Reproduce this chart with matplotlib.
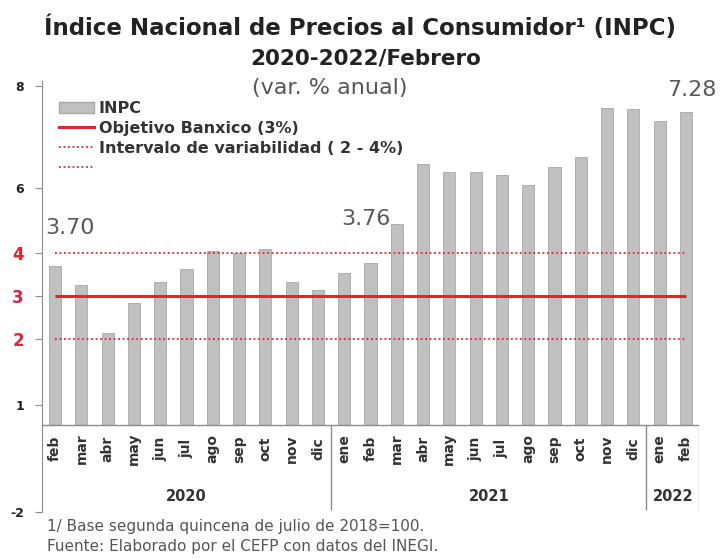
import matplotlib.pyplot as plt
from matplotlib.patches import Patch
from matplotlib.lines import Line2D

# datos: INPC var. % anual, feb 2020 - feb 2022
months = ["feb", "mar", "abr", "may", "jun", "jul", "ago", "sep", "oct", "nov", "dic",
          "ene", "feb", "mar", "abr", "may", "jun", "jul", "ago", "sep", "oct", "nov", "dic",
          "ene", "feb"]
inpc = [3.70, 3.25, 2.15, 2.84, 3.33, 3.62, 4.05, 4.01, 4.09, 3.33, 3.15,
        3.54, 3.76, 4.67, 6.08, 5.89, 5.88, 5.81, 5.59, 6.00, 6.24, 7.37, 7.36,
        7.07, 7.28]
years = ["2020", "2021", "2022"]
year_counts = [11, 12, 2]
objetivo = 3
intervalo = [2, 4]
highlight_idx = [0, 12, 24]
highlight_txt = ["3.70", "3.76", "7.28"]
highlight_off = [(11, 27), (-3, 32), (4, 16)]

# etiquetas del eje y tal como aparecen en la imagen original
ytick_vals = [7.88, 5.51, 4, 3, 2, 0.47, -2.02]
ytick_labels = ["8", "6", "4", "3", "2", "1", "-2"]
ytick_colors = ["#222222", "#222222", "#e3242f", "#cf2a45", "#e3242f", "#222222", "#222222"]
ytick_sizes = [9, 9, 12, 12, 12, 9, 9]

red = "#e3242f"
bar_color = "#c0c0c0"
text_dark = "#333333"

fig = plt.figure(figsize=(7.2, 5.59), dpi=100)
ax = fig.add_axes([42 / 720, 47 / 559, 657 / 720, 431 / 559])

x = list(range(len(inpc)))
ax.bar(x, inpc, width=0.46, color=bar_color, edgecolor="#a8a8a8", linewidth=0.6, zorder=2)

ax.hlines(objetivo, x[0], x[-1], color=red, linewidth=2.2, zorder=3)
for v in intervalo:
    ax.hlines(v, x[0], x[-1], color=red, linewidth=1.3, linestyles=(0, (1, 1.5)), zorder=3)

ax.set_xlim(-0.5, len(inpc) - 0.5)
ax.set_ylim(-2.02, 8.0)

# eje x dibujado en cero y separadores de años
ax.axhline(0, color="#8c8c8c", linewidth=1.0, zorder=4)
bounds = []
acc = 0
for c in year_counts:
    acc += c
    bounds.append(acc - 0.5)
ax.vlines(bounds, -1.98, 0, color="#8c8c8c", linewidth=1.0)

for i, m in enumerate(months):
    ax.text(i, -0.55, m, rotation=90, ha="center", va="center",
            fontsize=10, fontweight="bold", color=text_dark)

start = 0
for y, c in zip(years, year_counts):
    ax.text(start + (c - 1) / 2, -1.67, y, ha="center", va="center",
            fontsize=10.5, fontweight="bold", color=text_dark)
    start += c

for i, t, off in zip(highlight_idx, highlight_txt, highlight_off):
    ax.annotate(t, xy=(i, inpc[i]), xytext=off, textcoords="offset points",
                ha="center", va="center", fontsize=16, color="#595959")

for s in ["top", "right", "bottom"]:
    ax.spines[s].set_visible(False)
ax.spines["left"].set_color("#8c8c8c")
ax.set_xticks([])
ax.set_yticks(ytick_vals)
ax.set_yticklabels(ytick_labels)
ax.tick_params(axis="y", length=5, color="#8c8c8c", pad=8)
for lab, col, sz in zip(ax.get_yticklabels(), ytick_colors, ytick_sizes):
    lab.set_color(col)
    lab.set_fontsize(sz)
    lab.set_fontweight("bold")

handles = [Patch(facecolor=bar_color, edgecolor="#a8a8a8"),
           Line2D([], [], color=red, linewidth=2.2),
           Line2D([], [], color=red, linewidth=1.3, linestyle=(0, (1, 1.5))),
           Line2D([], [], color=red, linewidth=1.3, linestyle=(0, (1, 1.5)))]
labels = ["INPC", "Objetivo Banxico (3%)", "Intervalo de variabilidad ( 2 - 4%)", " "]
leg = fig.legend(handles, labels, loc="upper left", bbox_to_anchor=(59 / 720, 1 - 101 / 559),
                 frameon=False, borderpad=0, borderaxespad=0, handlelength=2.2,
                 handletextpad=0.3, labelspacing=0.3,
                 prop={"weight": "bold", "size": 11.5})
for t in leg.get_texts():
    t.set_color(text_dark)

fig.text(0.5, 1 - 28 / 559, "Índice Nacional de Precios al Consumidor¹ (INPC)",
         ha="center", va="center", fontsize=16.5, fontweight="bold", color="#222222")
fig.text(366 / 720, 1 - 58 / 559, "2020-2022/Febrero",
         ha="center", va="center", fontsize=15.5, fontweight="bold", color="#222222")
fig.text(330 / 720, 1 - 88 / 559, "(var. % anual)",
         ha="center", va="center", fontsize=16, color="#555555")

fig.text(47 / 720, 1 - 526 / 559, "1/ Base segunda quincena de julio de 2018=100.",
         ha="left", va="center", fontsize=11, color="#555555")
fig.text(47 / 720, 1 - 547 / 559, "Fuente: Elaborado por el CEFP con datos del INEGI.",
         ha="left", va="center", fontsize=11, color="#555555")

fig.savefig("out.png", dpi=100)
